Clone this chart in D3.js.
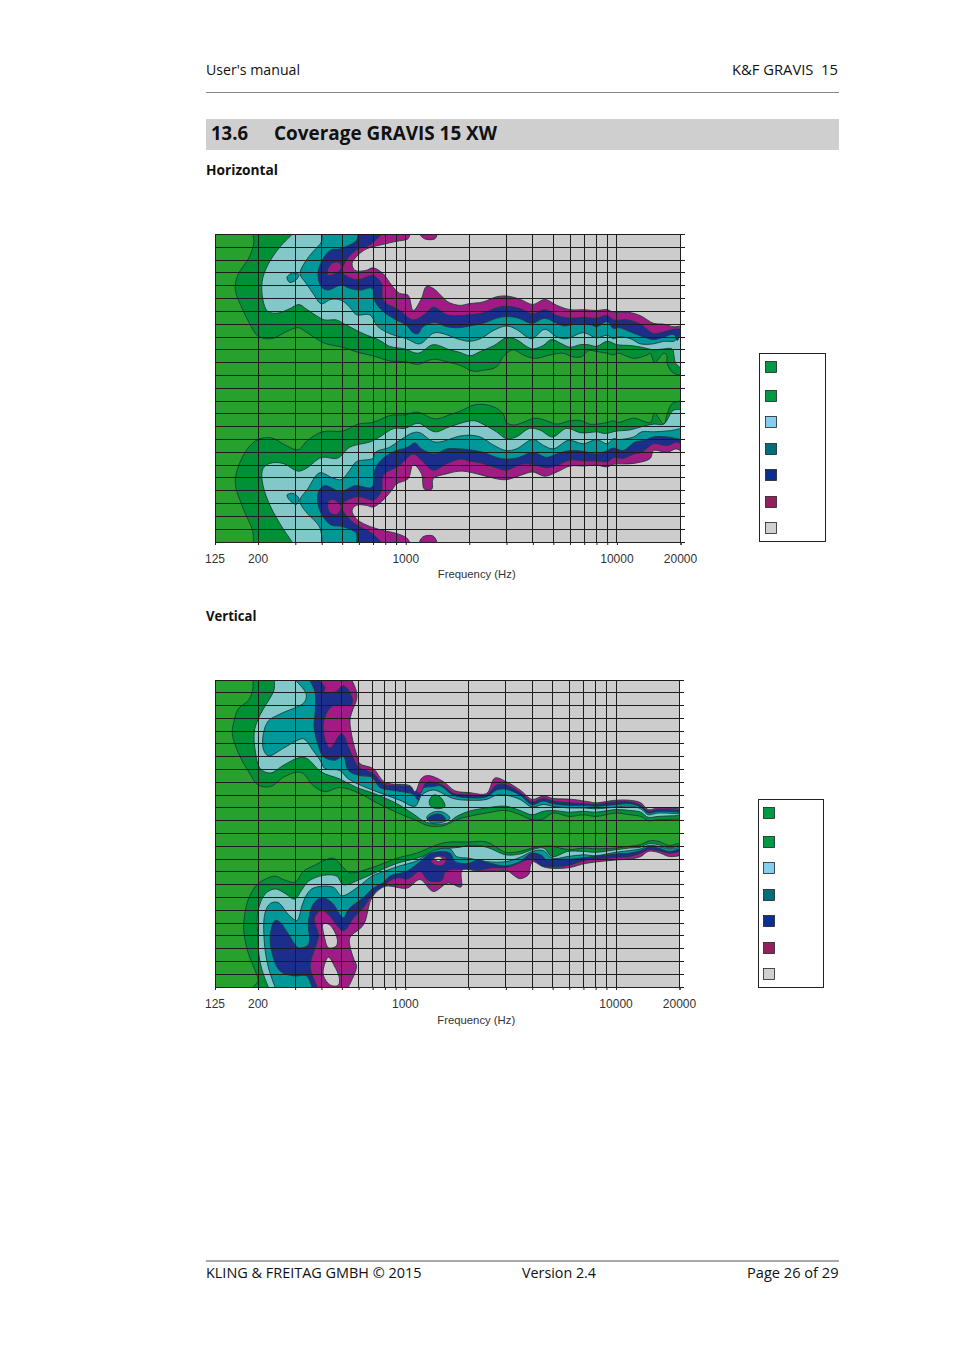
<!DOCTYPE html>
<html>
<head>
<meta charset="utf-8">
<script src="https://cdn.jsdelivr.net/npm/d3@7"></script>
<style>
  html, body { margin: 0; padding: 0; background: #fff; }
  svg { display: block; }
  .page { font-family: "Open Sans", "Noto Sans", sans-serif; fill: #111; white-space: pre; }
  .axis text, .axlabel { font-family: "Liberation Sans", Arial, sans-serif; font-size: 12px; fill: #333; }
</style>
</head>
<body>
<div id="vis"></div>
<script>
// contour outlines as [frequency Hz, angle deg]
const gridFreqs = [125,200,300,400,500,600,700,800,900,1000,2000,3000,4000,5000,6000,7000,8000,9000,10000,20000];
const labelFreqs = [125,200,1000,10000,20000];
const gridAngles = d3.range(-180, 181, 15);
const bandColors = ['#009036','#82c8c8','#009898','#1c2e8c','#a01c84','#cccccc'];
const legendColors = ['#009a44','#009a44','#84cfee','#006e7a','#0a2f8e','#92205e','#d0d0d0'];

// horizontal, upper half
const hTop1 = [[189,180],[191,171],[182,154],[160,132],[156,115],[170,91],[182,76],[200,61],[231,58],[271,66],[309,71],[337,66],[377,58],[421,52],[505,48],[594,42],[700,38],[840,32],[990,31],[1145,28],[1348,34],[1616,30],[1804,27],[2085,20],[2325,21],[2693,25],[2893,37],[3228,45],[3600,39],[4090,35],[4820,39],[5580,41],[6120,37],[6810,37],[7330,44],[8030,43],[8950,41],[9630,39],[10170,41],[12000,35],[13900,39],[14400,41],[15050,30],[16670,41],[17200,39],[17300,29],[18260,19],[20000,15]];
const hTop2 = [[290,180],[253,165],[222,144],[209,125],[211,103],[222,90],[248,88],[282,93],[312,98],[337,93],[377,85],[413,80],[469,80],[523,74],[628,64],[753,56],[840,49],[990,46],[1145,41],[1348,51],[1616,45],[1804,42],[2018,38],[2254,43],[2620,50],[3000,59],[3340,57],[3730,49],[4000,46],[4470,50],[4900,57],[5480,52],[6000,48],[6700,51],[7300,51],[8000,49],[9000,55],[10000,51],[11600,50],[13100,48],[14900,45],[16600,46],[18260,46],[18700,35],[19000,29],[20000,24]];
const hTop3 = [[403,180],[398,171],[364,160],[334,148],[316,134],[337,123],[364,111],[398,99],[443,104],[495,103],[543,95],[584,86],[675,86],[739,72],[840,64],[1008,58],[1165,52],[1375,65],[1804,57],[2000,55],[2254,58],[2620,68],[3000,73],[3340,69],[3950,58],[4550,69],[5200,60],[5770,58],[6950,65],[8000,59],[9000,62],[9630,58],[10170,60],[11600,58],[12900,52],[14900,52],[16670,55],[18600,55],[19300,58],[20000,60]];
const hTop4 = [[594,180],[584,173],[486,163],[443,162],[403,150],[384,134],[398,119],[428,115],[495,121],[543,117],[610,115],[692,117],[718,101],[782,90],[903,80],[1008,74],[1085,65],[1145,64],[1205,72],[1375,77],[1567,72],[1804,71],[2000,73],[2320,76],[2690,82],[3000,84],[3430,82],[3950,76],[4550,82],[5200,76],[5650,73],[6500,76],[7600,74],[8000,72],[9000,78],[9630,70],[10200,71],[11600,66],[13100,61],[14900,57],[16670,60],[18600,63],[19300,56],[20000,66]];
const hTop5 = [[766,180],[675,168],[584,162],[523,150],[500,136],[584,127],[650,130],[700,132],[766,123],[782,103],[936,91],[1085,80],[1252,88],[1348,95],[1567,86],[1804,85],[2000,86],[2320,88],[2690,94],[3000,96],[3490,93],[4000,87],[4550,92],[5200,85],[6000,82],[6950,83],[8000,82],[9000,85],[9630,80],[11300,80],[12900,75],[14900,64],[16670,66],[18600,69],[20000,69]];
const hTop6 = [[1044,180],[1025,175],[903,172],[766,168],[650,163],[584,154],[557,146],[575,138],[650,138],[700,141],[782,134],[855,121],[936,111],[1025,109],[1085,91],[1187,105],[1252,119],[1348,117],[1533,104],[1616,100],[1804,97],[2000,99],[2320,101],[2690,107],[3000,108],[3490,104],[4000,98],[4550,104],[5200,97],[6000,92],[6950,92],[8000,91],[9000,92],[9630,89],[11300,89],[12900,85],[14900,76],[16670,75],[18600,72],[20000,73]];
const hTopSpot3 = [[274,130],[292,135],[312,133],[303,127],[282,124]];
const hTopSpot5 = [[428,140],[452,147],[486,147],[495,140],[461,134],[428,132]];
const hTopEdge5 = [[1165,181],[1227,175],[1375,175],[1400,181]];

// horizontal, lower half
const hBot1 = [[190,-180],[188,-166],[170,-141],[156,-112],[160,-94],[178,-71],[200,-60],[231,-58],[271,-67],[309,-72],[343,-61],[403,-51],[505,-50],[594,-42],[700,-40],[840,-32],[990,-31],[1145,-28],[1375,-36],[1616,-31],[1804,-27],[2155,-19],[2620,-22],[2890,-30],[3000,-40],[3240,-43],[3600,-40],[4090,-35],[4640,-38],[5200,-42],[6000,-38],[6810,-38],[7400,-42],[8000,-42],[9000,-40],[9630,-38],[10170,-40],[12000,-35],[14400,-40],[15050,-29],[16670,-42],[17300,-30],[18260,-18],[20000,-15]];
const hBot2 = [[290,-180],[253,-158],[222,-131],[209,-108],[211,-94],[227,-88],[262,-88],[309,-97],[337,-94],[400,-81],[474,-82],[543,-69],[620,-65],[675,-63],[753,-57],[880,-47],[990,-47],[1145,-41],[1375,-51],[1616,-45],[2100,-38],[2320,-42],[2690,-51],[3000,-59],[3340,-57],[3850,-47],[4320,-49],[4950,-57],[5770,-47],[6700,-52],[7300,-52],[8000,-51],[8800,-53],[10000,-50],[11400,-49],[13100,-45],[14900,-42],[16670,-42],[18450,-26],[20000,-25]];
const hBot3 = [[403,-180],[390,-162],[343,-147],[320,-137],[315,-131],[343,-118],[391,-99],[451,-105],[495,-107],[543,-96],[584,-86],[700,-82],[718,-75],[840,-69],[936,-61],[1085,-52],[1165,-52],[1375,-63],[1804,-56],[2000,-55],[2254,-57],[2620,-67],[3000,-73],[3340,-71],[4000,-60],[4500,-67],[5000,-71],[5900,-61],[6950,-65],[8000,-60],[9000,-65],[9630,-59],[10200,-60],[12000,-57],[13100,-51],[14900,-51],[17300,-50],[18600,-49],[20000,-47]];
const hBot4 = [[584,-180],[584,-170],[505,-162],[443,-160],[403,-149],[384,-135],[388,-120],[413,-114],[495,-121],[575,-114],[692,-116],[718,-94],[782,-82],[903,-73],[1025,-69],[1105,-64],[1187,-71],[1375,-77],[1567,-71],[1804,-71],[2000,-72],[2320,-75],[2690,-81],[3000,-83],[3430,-81],[4000,-75],[4640,-81],[5200,-77],[6000,-73],[6950,-74],[8000,-77],[9000,-73],[9630,-70],[10700,-73],[12200,-63],[13500,-61],[14900,-57],[17300,-57],[20000,-60]];
const hBot5 = [[766,-180],[675,-168],[584,-160],[523,-149],[495,-137],[584,-127],[650,-129],[700,-131],[766,-121],[782,-102],[936,-90],[1085,-77],[1187,-84],[1348,-96],[1567,-88],[1804,-83],[2000,-85],[2320,-88],[2690,-93],[3000,-96],[3490,-89],[4000,-89],[4640,-93],[5200,-90],[6000,-84],[6950,-85],[8000,-85],[9000,-86],[9630,-81],[10700,-82],[12000,-77],[13100,-75],[14900,-65],[17300,-67],[19300,-63],[20000,-65]];
const hBot6 = [[1044,-180],[1008,-175],[903,-170],[766,-166],[650,-160],[584,-153],[557,-143],[584,-137],[650,-137],[700,-139],[766,-133],[855,-120],[905,-112],[1025,-106],[1085,-89],[1187,-100],[1225,-118],[1330,-118],[1348,-106],[1567,-100],[1850,-97],[2320,-102],[2690,-106],[3000,-107],[3490,-102],[4000,-98],[4550,-103],[5200,-98],[6000,-91],[6950,-91],[8000,-90],[9000,-92],[9630,-89],[12000,-88],[14400,-82],[14900,-73],[17300,-75],[19000,-71],[20000,-73]];
const hBotSpot3 = [[274,-125],[292,-123],[312,-129],[303,-136],[282,-131]];
const hBotSpot5 = [[428,-133],[452,-130],[495,-139],[470,-148],[435,-145]];
const hBotEdge5 = [[1165,-181],[1205,-174],[1348,-173],[1400,-181]];

// vertical, upper half
const vTop1 = [[189,180],[189,169],[180,156],[161,146],[153,129],[151,117],[161,95],[183,70],[200,57],[229,55],[264,66],[306,72],[329,70],[366,56],[416,49],[488,54],[608,47],[718,37],[943,23],[1133,15],[1286,9],[1513,9],[1750,16],[2000,20],[2430,24],[3000,27],[3500,22],[4000,16],[4510,17],[5000,24],[6000,20],[7000,22],[8000,20],[10000,24],[11600,22],[13100,20],[14200,15],[15800,16],[20000,17]];
const vTop2 = [[239,180],[238,168],[212,146],[200,134],[192,119],[194,97],[205,76],[229,71],[264,80],[314,89],[341,88],[400,72],[488,64],[587,54],[710,47],[912,35],[1090,23],[1263,13],[1572,12],[1750,20],[2000,26],[2430,30],[3000,32],[3500,27],[4000,22],[4510,26],[5000,27],[6000,25],[7000,26],[8000,25],[10000,28],[11600,27],[13100,25],[14200,19],[15800,20],[20000,21]];
const vTop3 = [[300,180],[338,164],[332,154],[254,140],[224,132],[212,117],[212,99],[224,91],[264,100],[306,109],[329,111],[366,97],[394,86],[416,76],[488,74],[537,64],[651,54],[770,47],[943,39],[1112,32],[1196,45],[1358,51],[1690,41],[2000,39],[2430,40],[2710,45],[3000,45],[3500,40],[4000,31],[4510,34],[5000,32],[6000,30],[7000,30],[8000,29],[10000,31],[11600,32],[13100,29],[14200,22],[15800,24],[20000,23]];
const vTop4 = [[351,180],[373,166],[373,140],[369,125],[387,103],[409,90],[466,86],[508,91],[537,74],[608,68],[695,66],[759,54],[912,50],[1090,46],[1154,39],[1209,53],[1358,55],[1460,56],[1690,45],[2000,42],[2430,43],[2710,51],[3000,52],[3500,45],[4000,34],[4510,38],[5000,35],[6000,33],[7000,33],[8000,32],[10000,34],[11600,35],[13100,31],[14200,24],[15800,26],[20000,25]];
const vTop5 = [[387,180],[416,171],[410,166],[466,166],[508,173],[544,166],[557,152],[447,149],[412,134],[409,117],[439,100],[499,117],[537,101],[567,88],[598,78],[705,70],[787,58],[1073,54],[1174,47],[1263,60],[1513,56],[1690,47],[2000,45],[2430,45],[2710,57],[3000,57],[3500,48],[4000,37],[4510,41],[5000,38],[6000,36],[7000,35],[8000,34],[10000,37],[11600,37],[13100,33],[14200,26],[15800,28],[20000,27]];
const vTop6 = [[557,180],[587,166],[587,157],[557,142],[546,132],[563,109],[587,93],[608,82],[705,76],[800,60],[1053,56],[1112,49],[1196,65],[1286,68],[1513,61],[1720,50],[2000,48],[2430,47],[2660,65],[3000,61],[3500,51],[4000,40],[4510,44],[5050,41],[6200,40],[7500,37],[8000,36],[10000,39],[11600,39],[13100,36],[14200,28],[15800,30],[20000,29]];
const vTopSpot1 = [[1299,38],[1358,45],[1460,43],[1542,32],[1434,29],[1319,32]];
const vTopSpot3 = [[1263,19],[1358,25],[1513,25],[1628,18],[1487,13],[1319,13]];
const vTopSpot4 = [[1272,17],[1358,22],[1487,22],[1553,16],[1434,15]];

// vertical, lower half
const vBot1 = [[189,-180],[200,-173],[194,-161],[183,-146],[174,-126],[171,-107],[180,-77],[200,-59],[241,-50],[264,-54],[300,-57],[329,-44],[366,-38],[455,-29],[508,-40],[546,-46],[695,-40],[912,-29],[1133,-23],[1513,-11],[2000,-10],[2430,-10],[3000,-22],[3500,-21],[4000,-17],[4510,-15],[5000,-15],[5400,-17],[6000,-19],[7000,-17],[8000,-18],[10000,-17],[11600,-15],[13100,-13],[14200,-9],[15800,-9],[17900,-14],[20000,-11]];
const vBot2 = [[224,-180],[212,-165],[203,-146],[199,-116],[200,-91],[216,-71],[241,-65],[268,-70],[298,-77],[323,-66],[347,-56],[409,-49],[473,-50],[508,-60],[608,-54],[705,-47],[912,-35],[1133,-29],[1460,-19],[1816,-16],[2000,-14],[2430,-16],[3000,-25],[3500,-24],[4000,-19],[4510,-17],[5000,-27],[5900,-21],[7000,-21],[8000,-22],[10000,-19],[11600,-17],[13100,-16],[14200,-12],[15800,-13],[17900,-17],[20000,-14]];
const vBot3 = [[241,-180],[224,-157],[214,-126],[216,-93],[229,-82],[249,-81],[279,-95],[306,-102],[323,-85],[340,-72],[366,-64],[455,-63],[499,-73],[587,-64],[695,-50],[800,-44],[943,-38],[1133,-32],[1358,-20],[1628,-18],[1750,-27],[2000,-29],[2430,-33],[3000,-33],[3500,-28],[4000,-21],[4510,-20],[5000,-29],[5900,-27],[7000,-25],[8000,-26],[10000,-22],[11600,-20],[13100,-18],[14200,-14],[15800,-15],[17900,-18],[20000,-16]];
const vBot4 = [[360,-180],[340,-167],[296,-167],[254,-161],[232,-138],[229,-118],[241,-102],[254,-104],[279,-118],[311,-134],[347,-130],[347,-103],[366,-83],[401,-75],[448,-81],[508,-99],[537,-89],[633,-75],[705,-64],[782,-58],[846,-50],[1020,-44],[1174,-33],[1330,-23],[1628,-23],[1720,-33],[2000,-35],[2210,-31],[2530,-35],[3000,-38],[3500,-33],[3980,-23],[4450,-26],[4660,-31],[5400,-30],[6100,-30],[7200,-28],[10000,-24],[11600,-23],[13100,-20],[14200,-16],[15800,-17],[17900,-21],[20000,-18]];
const vBot5 = [[382,-180],[356,-161],[354,-152],[373,-134],[387,-120],[370,-99],[401,-90],[432,-95],[508,-114],[567,-99],[633,-87],[683,-75],[800,-66],[820,-58],[912,-52],[1033,-53],[1174,-44],[1286,-55],[1487,-55],[1557,-44],[1900,-42],[2210,-43],[2590,-40],[3000,-40],[3850,-30],[4030,-29],[4300,-37],[5100,-39],[6000,-37],[7200,-31],[10000,-28],[11600,-27],[13100,-23],[14200,-19],[15800,-20],[17900,-23],[20000,-21]];
const vBot6 = [[537,-180],[587,-156],[571,-148],[546,-132],[546,-122],[633,-107],[695,-75],[800,-62],[1020,-64],[1174,-54],[1358,-68],[1597,-58],[1816,-63],[1850,-62],[1860,-43],[2210,-44],[2590,-44],[3050,-44],[3310,-50],[3500,-53],[3850,-48],[3920,-38],[4030,-33],[4510,-39],[5100,-41],[6000,-40],[7200,-35],[10000,-31],[11600,-30],[13100,-27],[14200,-21],[15800,-22],[17900,-27],[20000,-26]];
const vBotSpot5 = [[1323,-31],[1434,-26],[1571,-29],[1513,-37],[1382,-37]];
const vBotHole1 = [[1368,-29],[1434,-27],[1497,-29],[1434,-33]];
const vBotHole2 = [[407,-106],[437,-107],[475,-123],[470,-132],[432,-134],[412,-120]];
const vBotHole3 = [[432,-145],[460,-155],[486,-169],[481,-178],[443,-178],[409,-167],[412,-155]];

const width = 954;
const height = 1350;
const svg = d3.select('#vis').append('svg').attr('width', width).attr('height', height);
svg.append('rect').attr('width', width).attr('height', height).attr('fill', '#fff');

// page furniture, stretched to the widths in the scan
const addText = (txt, x, y, size, weight, w) => svg.append('text').attr('class', 'page')
  .attr('x', x).attr('y', y).attr('font-size', size).attr('font-weight', weight)
  .attr('textLength', w).attr('lengthAdjust', 'spacingAndGlyphs').text(txt);

addText("User's manual", 206, 75, 14, 400, 94);
addText('K&F GRAVIS  15', 732, 75, 14, 400, 106);
svg.append('line').attr('x1', 206).attr('x2', 839).attr('y1', 92.5).attr('y2', 92.5).attr('stroke', '#888');
svg.append('rect').attr('x', 206).attr('y', 119).attr('width', 633).attr('height', 31).attr('fill', '#cfcfcf');
addText('13.6', 211, 140, 19, 700, 37);
addText('Coverage GRAVIS 15 XW', 274, 140, 19, 700, 223);
addText('Horizontal', 206, 175, 13.8, 700, 72);
addText('Vertical', 206, 621, 13.8, 700, 50.5);
svg.append('line').attr('x1', 206).attr('x2', 839).attr('y1', 1261).attr('y2', 1261).attr('stroke', '#555');
addText('KLING & FREITAG GMBH © 2015', 206, 1278, 14, 400, 215.5);
addText('Version 2.4', 522, 1278, 14, 400, 74);
addText('Page 26 of 29', 747, 1278, 14, 400, 91.5);

const openLine = (x, y) => d3.line().x(d => x(d[0])).y(d => y(d[1])).curve(d3.curveCatmullRom.alpha(0.5));
const loopLine = (x, y) => d3.line().x(d => x(d[0])).y(d => y(d[1])).curve(d3.curveCatmullRomClosed.alpha(0.5));

function drawChart(id, box, bands, spots, labelY, titleY) {
  const x = d3.scaleLog().domain([125, 20000]).range([box.x0, box.x1]);
  const y = d3.scaleLinear().domain([180, -180]).range([box.y0, box.y1]);
  const g = svg.append('g');

  svg.append('clipPath').attr('id', id).append('rect')
    .attr('x', box.x0).attr('y', box.y0).attr('width', box.x1 - box.x0).attr('height', box.y1 - box.y0);
  const plot = g.append('g').attr('clip-path', `url(#${id})`);
  plot.append('rect').attr('x', box.x0).attr('y', box.y0)
    .attr('width', box.x1 - box.x0).attr('height', box.y1 - box.y0).attr('fill', '#28a02e');

  const line = openLine(x, y);
  const loop = loopLine(x, y);

  // each band is painted over the one before, upper and lower half alike
  bands.forEach(b => {
    const corner = b.side > 0 ? 180 : -180;
    plot.append('path').attr('d', `${line(b.pts)}L${x(20000)},${y(corner)}Z`).attr('fill', bandColors[b.level]);
    plot.append('path').attr('d', line(b.pts)).attr('fill', 'none').attr('stroke', '#1d3c3c').attr('stroke-width', 0.9);
  });
  spots.forEach(s => {
    plot.append('path').attr('d', loop(s.pts)).attr('fill', s.fill)
      .attr('stroke', '#1d3c3c').attr('stroke-width', 0.9);
  });

  // grid on top of the contours
  g.selectAll('.vgrid').data(gridFreqs).join('line').attr('class', 'vgrid')
    .attr('x1', d => x(d)).attr('x2', d => x(d)).attr('y1', box.y0).attr('y2', box.y1)
    .attr('stroke', '#1c1c1c').attr('stroke-width', 1).attr('shape-rendering', 'crispEdges');
  g.selectAll('.hgrid').data(gridAngles).join('line').attr('class', 'hgrid')
    .attr('x1', box.x0).attr('x2', box.x1 + 4).attr('y1', d => y(d)).attr('y2', d => y(d))
    .attr('stroke', '#1c1c1c').attr('stroke-width', 1).attr('shape-rendering', 'crispEdges');

  const axis = d3.axisBottom(x).tickValues(gridFreqs).tickSize(3)
    .tickFormat(d => labelFreqs.includes(d) ? d : '');
  const ax = g.append('g').attr('class', 'axis').attr('transform', `translate(0,${box.y1})`).call(axis);
  ax.select('.domain').attr('stroke', '#222');
  ax.selectAll('.tick line').attr('stroke', '#222');
  ax.selectAll('text').attr('x', -0.5).attr('y', labelY - box.y1).attr('dy', 0);

  g.append('text').attr('class', 'axlabel').attr('x', (box.x0 + box.x1) / 2 + 29).attr('y', titleY)
    .attr('text-anchor', 'middle').text('Frequency (Hz)').style('font-size', '11.3px');
}

function drawLegend(bx, by, bw, bh, sx, sy) {
  svg.append('rect').attr('x', bx).attr('y', by).attr('width', bw).attr('height', bh)
    .attr('fill', '#fff').attr('stroke', '#222').attr('stroke-width', 1);
  const offsets = [0, 29, 55, 82, 108, 135, 161];
  svg.selectAll(null).data(legendColors).join('rect')
    .attr('x', sx).attr('y', (d, i) => sy + offsets[i]).attr('width', 11).attr('height', 11)
    .attr('fill', d => d).attr('stroke', '#222').attr('stroke-width', 0.8);
}

const sideBands = (top, bottom) => top.flatMap((pts, i) => [
  { level: i, side: 1, pts }, { level: i, side: -1, pts: bottom[i] }
]);

drawChart('clipH', { x0: 215, x1: 680.5, y0: 234.5, y1: 542 },
  sideBands([hTop1, hTop2, hTop3, hTop4, hTop5, hTop6], [hBot1, hBot2, hBot3, hBot4, hBot5, hBot6]),
  [
    { pts: hTopSpot3, fill: bandColors[2] }, { pts: hBotSpot3, fill: bandColors[2] },
    { pts: hTopSpot5, fill: bandColors[4] }, { pts: hBotSpot5, fill: bandColors[4] },
    { pts: hTopEdge5, fill: bandColors[4] }, { pts: hBotEdge5, fill: bandColors[4] }
  ], 562.5, 578);

drawChart('clipV', { x0: 215, x1: 679.5, y0: 680, y1: 987 },
  sideBands([vTop1, vTop2, vTop3, vTop4, vTop5, vTop6], [vBot1, vBot2, vBot3, vBot4, vBot5, vBot6]),
  [
    { pts: vTopSpot1, fill: bandColors[0] }, { pts: vTopSpot3, fill: bandColors[2] },
    { pts: vTopSpot4, fill: bandColors[3] }, { pts: vBotSpot5, fill: bandColors[4] },
    { pts: vBotHole1, fill: bandColors[5] }, { pts: vBotHole2, fill: bandColors[5] },
    { pts: vBotHole3, fill: bandColors[5] }
  ], 1007.5, 1024);

drawLegend(759.5, 353.5, 66, 188, 765.5, 361.5);
drawLegend(758.5, 799.5, 65, 188, 763.5, 807.5);
</script>
</body>
</html>
